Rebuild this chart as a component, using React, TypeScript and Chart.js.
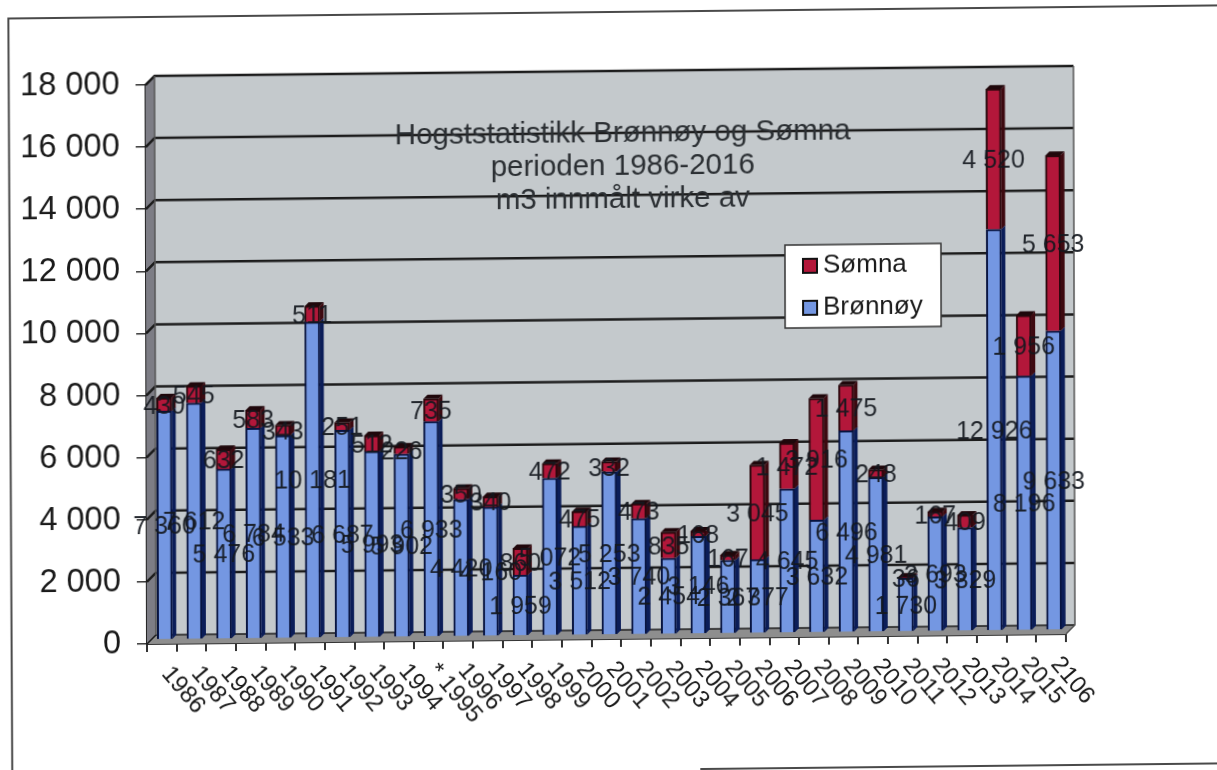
import React, { useEffect, useRef } from "react";
import { Chart, registerables } from "chart.js";

Chart.register(...registerables);

const years = ["1986","1987","1988","1989","1990","1991","1992","1993","1994","* 1995","1996","1997","1998","1999","2000","2001","2002","2003","2004","2005","2006","2007","2008","2009","2010","2011","2012","2013","2014","2015","2106"];
const bronnoy = [7360,7612,5476,6784,6533,10181,6687,5993,5902,6933,4420,4160,1959,5072,3512,5253,3740,2454,3146,2367,2377,4645,3632,6496,4981,1730,3693,3329,12926,8196,9633];
const somna = [430,545,632,583,343,511,251,512,226,735,350,340,860,472,475,332,473,835,168,167,3045,1472,3916,1475,248,36,167,409,4520,1956,5653];
const titleLines = ["Hogststatistikk Brønnøy og Sømna","perioden 1986-2016","m3 innmålt virke av"];
const legendOrder = [1, 0];
const seriesNames = ["Brønnøy", "Sømna"];
const faceColors = ["#7497e2", "#b3173a"];
const sideColors = ["#0b1d58", "#3d0910"];
const topColors = ["#14245f", "#1f070b"];

const FONT = '"Liberation Sans", Arial, sans-serif';
const fmt = (v: number) => {
  const s = String(v);
  return s.length > 3 ? s.slice(0, -3) + " " + s.slice(-3) : s;
};

const DEPTH_X = 9, DEPTH_Y = 9;
const BAR_DX = 3, BAR_DY = -4;
const SIDE_X = 4, SIDE_Y = 4;

const scene = {
  id: "scene",
  beforeDraw(chart: any) {
    const { ctx } = chart;
    ctx.save();
    ctx.strokeStyle = "#4a4a4a";
    ctx.lineWidth = 2;
    ctx.beginPath();
    ctx.moveTo(12, 790);
    ctx.lineTo(10, 17);
    ctx.lineTo(1239, 17);
    ctx.moveTo(700, 775);
    ctx.lineTo(1239, 775);
    ctx.stroke();
    ctx.restore();
  },
  beforeDatasetsDraw(chart: any) {
    const { ctx, chartArea: a, scales } = chart;
    const y = scales.y;
    ctx.save();
    ctx.fillStyle = "#c4c9cc";
    ctx.fillRect(a.left + DEPTH_X, a.top - DEPTH_Y, a.width, a.height);
    ctx.fillStyle = "#7d7d85";
    ctx.beginPath();
    ctx.moveTo(a.left, a.top);
    ctx.lineTo(a.left + DEPTH_X, a.top - DEPTH_Y);
    ctx.lineTo(a.left + DEPTH_X, a.bottom - DEPTH_Y);
    ctx.lineTo(a.left, a.bottom);
    ctx.closePath();
    ctx.fill();
    ctx.fillStyle = "#8e8e8e";
    ctx.beginPath();
    ctx.moveTo(a.left, a.bottom);
    ctx.lineTo(a.left + DEPTH_X, a.bottom - DEPTH_Y);
    ctx.lineTo(a.right + DEPTH_X, a.bottom - DEPTH_Y);
    ctx.lineTo(a.right, a.bottom);
    ctx.closePath();
    ctx.fill();
    ctx.strokeStyle = "#1c1c1c";
    y.ticks.forEach((t: any) => {
      const py = y.getPixelForValue(t.value);
      ctx.lineWidth = t.value === 0 ? 1.5 : 2.5;
      ctx.beginPath();
      ctx.moveTo(a.left, py);
      ctx.lineTo(a.left + DEPTH_X, py - DEPTH_Y);
      ctx.lineTo(a.right + DEPTH_X, py - DEPTH_Y);
      ctx.stroke();
    });
    ctx.lineWidth = 1.5;
    ctx.strokeStyle = "#555";
    ctx.beginPath();
    ctx.moveTo(a.left + DEPTH_X, a.top - DEPTH_Y);
    ctx.lineTo(a.left + DEPTH_X, a.bottom - DEPTH_Y);
    ctx.moveTo(a.right + DEPTH_X, a.top - DEPTH_Y);
    ctx.lineTo(a.right + DEPTH_X, a.bottom - DEPTH_Y);
    ctx.lineTo(a.right, a.bottom);
    ctx.stroke();
    ctx.restore();
    ctx.save();
    ctx.translate(BAR_DX, BAR_DY);
  },
  afterDatasetsDraw(chart: any) {
    const { ctx, scales } = chart;
    chart.data.datasets.forEach((_: any, di: number) => {
      chart.getDatasetMeta(di).data.forEach((bar: any) => {
        const r = bar.x + bar.width / 2;
        ctx.fillStyle = sideColors[di];
        ctx.beginPath();
        ctx.moveTo(r, bar.y);
        ctx.lineTo(r + SIDE_X, bar.y - SIDE_Y);
        ctx.lineTo(r + SIDE_X, bar.base - SIDE_Y);
        ctx.lineTo(r, bar.base);
        ctx.closePath();
        ctx.fill();
        if (di === chart.data.datasets.length - 1) {
          const l = bar.x - bar.width / 2;
          ctx.fillStyle = topColors[di];
          ctx.beginPath();
          ctx.moveTo(l, bar.y);
          ctx.lineTo(l + SIDE_X, bar.y - SIDE_Y);
          ctx.lineTo(r + SIDE_X, bar.y - SIDE_Y);
          ctx.lineTo(r, bar.y);
          ctx.closePath();
          ctx.fill();
        }
      });
    });
    ctx.font = `25px ${FONT}`;
    ctx.fillStyle = "rgba(20,24,30,0.92)";
    ctx.textAlign = "center";
    ctx.textBaseline = "middle";
    chart.data.datasets.forEach((ds: any, di: number) => {
      chart.getDatasetMeta(di).data.forEach((bar: any, i: number) => {
        ctx.fillText(fmt(ds.data[i]), bar.x, (bar.y + bar.base) / 2 + 2);
      });
    });
    ctx.restore();

    ctx.save();
    ctx.font = `24px ${FONT}`;
    ctx.fillStyle = "#1a1a1a";
    ctx.textAlign = "left";
    ctx.textBaseline = "middle";
    const x = scales.x;
    chart.data.labels.forEach((lab: string, i: number) => {
      ctx.save();
      ctx.translate(x.getPixelForValue(i) + 4, x.top + 26);
      ctx.rotate((50 * Math.PI) / 180);
      ctx.fillText(lab, 0, 0);
      ctx.restore();
    });
    ctx.restore();

    ctx.save();
    ctx.font = `29.5px ${FONT}`;
    ctx.fillStyle = "#2b2f33";
    ctx.textAlign = "center";
    ctx.textBaseline = "middle";
    titleLines.forEach((t, i) => ctx.fillText(t, 624, 139 + i * 33));
    ctx.restore();

    ctx.save();
    ctx.fillStyle = "#fff";
    ctx.strokeStyle = "#333";
    ctx.lineWidth = 1.5;
    ctx.fillRect(786, 252, 156, 83);
    ctx.strokeRect(786, 252, 156, 83);
    ctx.font = `26px ${FONT}`;
    ctx.textAlign = "left";
    ctx.textBaseline = "middle";
    legendOrder.forEach((di, i) => {
      const cy = 273 + i * 42;
      ctx.fillStyle = faceColors[di];
      ctx.strokeStyle = "#111";
      ctx.lineWidth = 2;
      ctx.fillRect(804, cy - 7, 14, 14);
      ctx.strokeRect(804, cy - 7, 14, 14);
      ctx.fillStyle = "#1a1a1a";
      ctx.fillText(seriesNames[di], 824, cy);
    });
    ctx.restore();
  },
};

export default function App() {
  const ref = useRef<HTMLCanvasElement>(null);
  useEffect(() => {
    const chart = new Chart(ref.current!, {
      type: "bar",
      data: {
        labels: years,
        datasets: [0, 1].map((di) => ({
          label: seriesNames[di],
          data: di === 0 ? bronnoy : somna,
          backgroundColor: faceColors[di],
          borderColor: di === 0 ? "#081440" : "#2a070c",
          borderWidth: 2,
          barThickness: 15,
          clip: false as any,
        })),
      },
      options: {
        animation: false,
        responsive: false,
        layout: { padding: { top: 85, bottom: 0, left: 0, right: 174 } },
        plugins: { legend: { display: false }, title: { display: false }, tooltip: { enabled: false } },
        scales: {
          x: {
            stacked: true,
            offset: true,
            afterFit: (s: any) => { s.height = 156; },
            grid: { drawOnChartArea: false, drawTicks: true, tickLength: 8, color: "#333", lineWidth: 2 },
            border: { color: "#333", width: 2 },
            ticks: { display: false },
          },
          y: {
            stacked: true,
            min: 0,
            max: 18000,
            afterFit: (s: any) => { s.width = 147; },
            grid: { drawOnChartArea: false, drawTicks: true, tickLength: 10, color: "#333", lineWidth: 1.5 },
            border: { color: "#222", width: 2 },
            ticks: {
              stepSize: 2000,
              padding: 16,
              color: "#1a1a1a",
              font: { family: FONT, size: 32.5 },
              callback: (v: any) => (v === 0 ? "0" : fmt(Number(v))),
            },
          },
        },
      },
      plugins: [scene],
    } as any);
    return () => chart.destroy();
  }, []);
  return (
    <div style={{ position: "fixed", inset: 0, overflow: "hidden", background: "#fff" }}>
      <canvas
        ref={ref}
        width={1240}
        height={800}
        style={{ display: "block", transform: "skewY(-0.62deg) skewX(0.15deg)", transformOrigin: "147px 644px" }}
      />
    </div>
  );
}
